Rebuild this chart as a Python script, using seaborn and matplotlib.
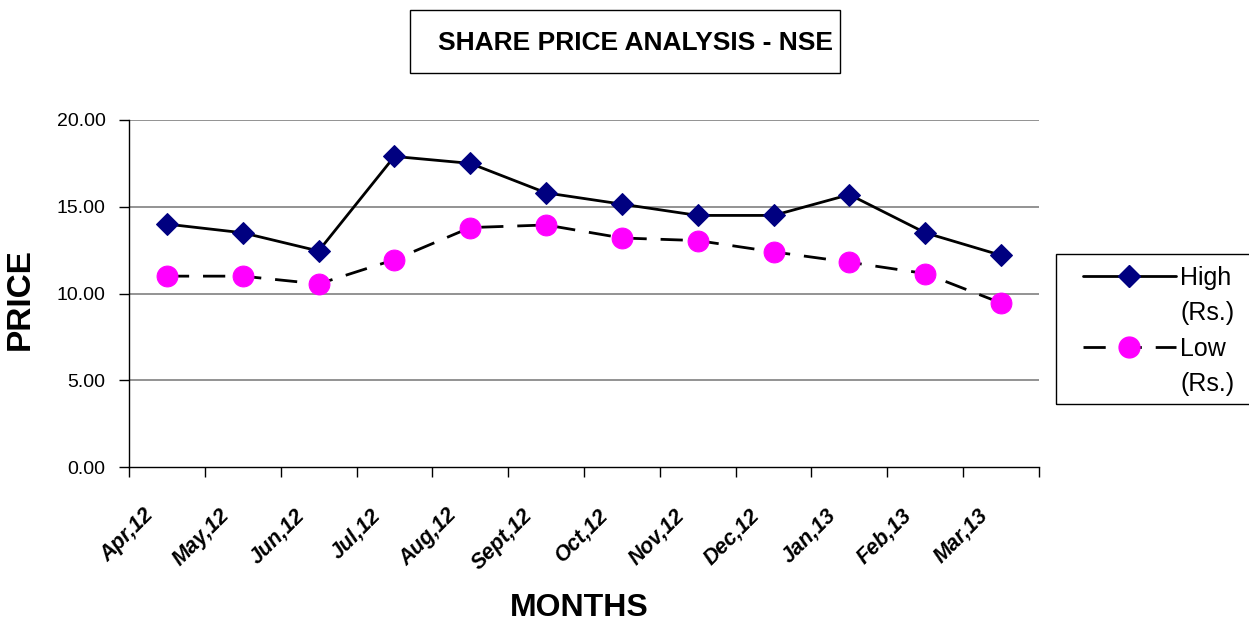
import numpy as np
import pandas as pd
import seaborn as sns
import matplotlib.pyplot as plt
from matplotlib.patches import Rectangle
from matplotlib.lines import Line2D

# dados do gráfico
meses = ['Apr,12', 'May,12', 'Jun,12', 'Jul,12', 'Aug,12', 'Sept,12',
         'Oct,12', 'Nov,12', 'Dec,12', 'Jan,13', 'Feb,13', 'Mar,13']
high = [14.0, 13.5, 12.45, 17.9, 17.5, 15.8, 15.15, 14.5, 14.5, 15.7, 13.5, 12.2]
low = [11.0, 11.0, 10.55, 11.95, 13.8, 13.95, 13.2, 13.05, 12.4, 11.8, 11.15, 9.45]
y_ticks = [0, 5, 10, 15, 20]

sns.set_style('white')
plt.rcParams['font.family'] = ['Liberation Sans Narrow', 'Liberation Sans', 'DejaVu Sans']
plt.rcParams['text.color'] = 'black'
plt.rcParams['axes.labelcolor'] = 'black'
plt.rcParams['xtick.color'] = 'black'
plt.rcParams['ytick.color'] = 'black'

W, H = 1249, 628
pos = np.arange(len(meses))
dados = pd.DataFrame({'pos': pos, 'high': high, 'low': low})
tracejado = (0, (8, 5))

fig = plt.figure(figsize=(W / 100, H / 100), dpi=100)
ax = fig.add_axes([129 / W, 1 - 467 / H, 910 / W, 347 / H])

for y in y_ticks[1:]:
    ax.axhline(y, color='#808080', lw=1.2, zorder=0)

sns.lineplot(data=dados, x='pos', y='high', ax=ax, color='black', lw=2,
             marker='D', markersize=11, markerfacecolor='#000080',
             markeredgecolor='#000080', legend=False)
sns.lineplot(data=dados, x='pos', y='low', ax=ax, color='black', lw=2,
             marker='o', markersize=15, markerfacecolor='#FF00FF',
             markeredgecolor='#FF00FF', legend=False)
ax.lines[-1].set_linestyle(tracejado)

ax.set_xlim(-0.5, len(meses) - 0.5)
ax.set_ylim(0, 20)
ax.set_yticks(y_ticks)
ax.set_yticklabels([f'{v:.2f}' for v in y_ticks], fontsize=14)
# rótulos um pouco à esquerda do centro (ticks maiores invisíveis)
ax.set_xticks(pos - 0.22)
ax.set_xticklabels(meses, rotation=45, ha='right', va='center',
                   rotation_mode='anchor', fontsize=15.5, fontweight='bold',
                   style='italic')
ax.set_xticks(np.arange(-0.5, len(meses)), minor=True)
ax.tick_params(axis='x', which='major', length=0, pad=45 * 0.72, bottom=True)
ax.tick_params(axis='x', which='minor', length=7, width=1, direction='out', bottom=True)
ax.tick_params(axis='y', length=7, width=1, direction='out', left=True, pad=10)

for s in ['top', 'right']:
    ax.spines[s].set_visible(False)
for s in ['left', 'bottom']:
    ax.spines[s].set_color('black')
    ax.spines[s].set_linewidth(1)

ax.set_ylabel('PRICE', fontsize=24, fontweight='bold',
              family=['Liberation Sans', 'DejaVu Sans'])
ax.set_xlabel('MONTHS', fontsize=23, fontweight='bold',
              family=['Liberation Sans', 'DejaVu Sans'])
ax.xaxis.set_label_coords(0.4945, -0.362)
ax.yaxis.set_label_coords(-0.102, 0.484)

# legenda: caixa própria, texto em quatro linhas
fig.patches.append(Rectangle((1056 / W, 1 - 404 / H), 220 / W, 150 / H,
                             transform=fig.transFigure, fill=False,
                             edgecolor='black', lw=1))
h_high = Line2D([], [], color='black', lw=2, marker='D', markersize=11,
                markerfacecolor='#000080', markeredgecolor='#000080')
h_low = Line2D([], [], color='black', lw=2, ls=tracejado, marker='o',
               markersize=15, markerfacecolor='#FF00FF', markeredgecolor='#FF00FF')
h_vazio = Line2D([], [], lw=0, alpha=0)
leg = ax.legend([h_high, h_vazio, h_low, h_vazio],
                ['High', '(Rs.)', 'Low', '(Rs.)'],
                loc='upper left', bbox_to_anchor=(1083 / W, 1 - 266 / H),
                bbox_transform=fig.transFigure, fontsize=18, frameon=False,
                handlelength=3.7, borderpad=0, borderaxespad=0,
                labelspacing=0.45, handletextpad=0.2)

# caixa do título
fig.patches.append(Rectangle((410 / W, 1 - 73 / H), 430 / W, 63 / H,
                             transform=fig.transFigure, fill=False,
                             edgecolor='black', lw=1))
fig.text(636 / W, 1 - 43 / H, 'SHARE PRICE ANALYSIS - NSE', ha='center',
         va='center', fontsize=19, fontweight='bold')

fig.savefig('out.png', dpi=100)
